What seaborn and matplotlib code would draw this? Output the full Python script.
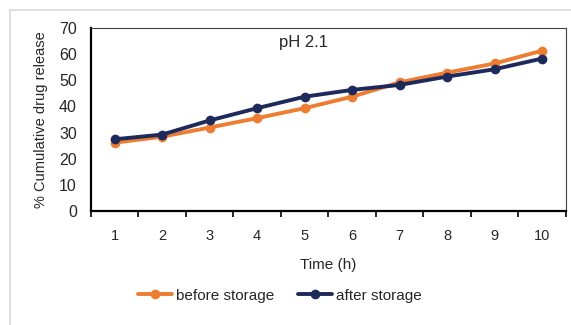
import matplotlib
matplotlib.use("Agg")
import matplotlib.pyplot as plt
import pandas as pd
import seaborn as sns
from matplotlib.patches import Rectangle

# Release profile at pH 2.1
hours = [1, 2, 3, 4, 5, 6, 7, 8, 9, 10]
before_storage = [26.1, 28.4, 31.9, 35.5, 39.3, 43.7, 49.2, 52.9, 56.4, 61.3]
after_storage = [27.4, 29.2, 34.6, 39.3, 43.7, 46.3, 48.2, 51.4, 54.2, 58.3]
series_names = ["before storage", "after storage"]
y_ticks = [0, 10, 20, 30, 40, 50, 60, 70]

df = pd.DataFrame({
    "Time": hours * 2,
    "Release": before_storage + after_storage,
    "Series": [series_names[0]] * len(hours) + [series_names[1]] * len(hours),
})

sns.set_theme(style="white")
plt.rcParams["font.family"] = ["Liberation Sans", "DejaVu Sans"]

fig = plt.figure(figsize=(5.71, 3.25), dpi=100)
ax = fig.add_axes([0.159, 0.351, 0.832, 0.563])

# light grey chart-area border
fig.patches.append(Rectangle((10 / 571, -0.1), 1.2, 1 - 10 / 325 + 0.1,
                             transform=fig.transFigure, fill=False,
                             edgecolor="#d9d9d9", linewidth=1.2))

palette = {"before storage": "#ED7D31", "after storage": "#1F2A5C"}
sns.lineplot(data=df, x="Time", y="Release", hue="Series", palette=palette,
             marker="o", markersize=7, markeredgewidth=0, linewidth=2.8,
             ax=ax, legend=False)

ax.set_xlim(0.5, 10.5)
ax.set_ylim(0, 70)
ax.set_yticks(y_ticks)
ax.set_xticks(hours)
ax.set_xticks([h - 0.5 for h in hours] + [10.5], minor=True)
ax.tick_params(axis="x", which="major", length=0, pad=13, labelsize=10.5)
ax.tick_params(axis="x", which="minor", length=4, width=1.2, direction="out",
               color="black", bottom=True)
ax.tick_params(axis="y", length=0, pad=10, labelsize=11.5)

for side in ["left", "bottom"]:
    ax.spines[side].set_color("black")
    ax.spines[side].set_linewidth(1.6)
for side in ["top", "right"]:
    ax.spines[side].set_color("#404040")
    ax.spines[side].set_linewidth(0.8)

ax.set_xlabel("Time (h)", fontsize=11, labelpad=11)
ax.set_ylabel("% Cumulative drug release", fontsize=10.5, labelpad=8)
ax.text(0.397, 0.92, "pH 2.1", transform=ax.transAxes, fontsize=12,
        va="center", ha="left")

handles = [plt.Line2D([], [], color=palette[s], marker="o", markersize=7,
                      markeredgewidth=0, linewidth=2.8) for s in series_names]
fig.legend(handles, series_names, loc="center", bbox_to_anchor=(0.49, 0.09),
           ncol=2, frameon=False, fontsize=11, handlelength=2.2,
           handletextpad=0.25, columnspacing=1.6)

fig.savefig("out.png", dpi=100, facecolor="white")
